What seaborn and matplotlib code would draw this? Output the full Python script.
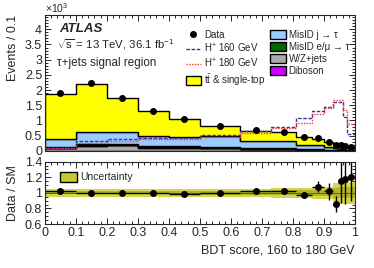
import numpy as np
import pandas as pd
import seaborn as sns
import matplotlib.pyplot as plt
from matplotlib.lines import Line2D
from matplotlib.patches import Patch
from matplotlib.ticker import MultipleLocator, FuncFormatter

# BDT score bin edges (variable width)
edges = [0, 0.1, 0.2, 0.3, 0.4, 0.5, 0.63, 0.73, 0.81, 0.86, 0.9, 0.93, 0.946, 0.962, 0.975, 1.0]

# Events / 0.1, in units of 10^3
ttbar = [1.48, 1.58, 1.12, 0.84, 0.59, 0.32, 0.33, 0.30, 0.26, 0.22, 0.18, 0.14, 0.13, 0.11, 0.08]
misid_j = [0.265, 0.40, 0.38, 0.33, 0.31, 0.36, 0.235, 0.23, 0.147, 0.133, 0.088, 0.056, 0.033, 0.026, 0.01]
misid_emu = [0.03, 0.05, 0.05, 0.04, 0.04, 0.035, 0.03, 0.025, 0.02, 0.015, 0.01, 0.008, 0.006, 0.005, 0.004]
diboson = [0.005, 0.01, 0.01, 0.008, 0.008, 0.006, 0.005, 0.004, 0.003, 0.002, 0.002, 0.001, 0.001, 0.001, 0.001]
wzjets = [0.10, 0.17, 0.18, 0.11, 0.11, 0.09, 0.07, 0.06, 0.04, 0.03, 0.02, 0.015, 0.01, 0.008, 0.005]

hplus160 = [0.10, 0.31, 0.40, 0.43, 0.42, 0.51, 0.65, 0.79, 1.07, 1.30, 1.45, 1.60, 1.60, 1.10, 0.54]
hplus180 = [0.10, 0.27, 0.34, 0.38, 0.38, 0.47, 0.60, 0.74, 0.92, 1.20, 1.42, 1.66, 1.66, 1.36, 0.87]

# data / SM ratio and its error
ratio = [1.017, 1.004, 1.0, 1.0, 0.99, 0.996, 1.017, 1.026, 0.97, 1.077, 1.017, 0.86, 1.155, 1.18, 1.20]
ratio_err = [0.01, 0.01, 0.01, 0.012, 0.015, 0.015, 0.02, 0.025, 0.04, 0.07, 0.11, 0.10, 0.28, 0.32, 0.31]

# uncertainty band half widths (relative)
unc_inner = [0.02, 0.02, 0.02, 0.02, 0.02, 0.025, 0.025, 0.03, 0.03, 0.04, 0.045, 0.06, 0.07, 0.07, 0.07]
unc_outer = [0.05, 0.05, 0.05, 0.05, 0.05, 0.055, 0.055, 0.06, 0.06, 0.08, 0.08, 0.12, 0.14, 0.14, 0.14]

procs = ["W/Z+jets", "Diboson", "MisID e/μ → τ", "MisID j → τ", "tt"]
colors = {"W/Z+jets": "#aaaaaa", "Diboson": "#cc00ff", "MisID e/μ → τ": "#006600",
          "MisID j → τ": "#99ccff", "tt": "#ffff00"}

sns.set_style("ticks")
plt.rcParams['font.family'] = ['Liberation Sans', 'DejaVu Sans']
plt.rcParams['mathtext.fontset'] = 'custom'
plt.rcParams['mathtext.rm'] = 'Liberation Sans'
plt.rcParams['mathtext.it'] = 'Liberation Sans:italic'
plt.rcParams['mathtext.default'] = 'regular'

edges_a = np.array(edges)
centers = (edges_a[1:] + edges_a[:-1]) / 2
halfw = (edges_a[1:] - edges_a[:-1]) / 2

rows = []
for name, vals in zip(procs, [wzjets, diboson, misid_emu, misid_j, ttbar]):
    for c, v in zip(centers, vals):
        rows.append({"x": c, "w": v, "proc": name})
df = pd.DataFrame(rows)

total = np.sum([ttbar, misid_j, misid_emu, diboson, wzjets], axis=0)
data = np.array(ratio) * total
data_err = np.array(ratio_err) * total

fig = plt.figure(figsize=(3.74, 2.68), dpi=100)
ax = fig.add_axes([0.120, 0.437, 0.829, 0.507])
rax = fig.add_axes([0.120, 0.164, 0.829, 0.233])

sns.histplot(data=df, x="x", weights="w", hue="proc", hue_order=procs[::-1], bins=edges,
             multiple="stack", element="step", palette=colors, alpha=1, linewidth=1.0,
             edgecolor="black", legend=False, ax=ax)
sns.histplot(x=centers, weights=hplus160, bins=edges, element="step", fill=False,
             color="#3333aa", linestyle=(0, (2.5, 1.2)), linewidth=1.0, ax=ax)
sns.histplot(x=centers, weights=hplus180, bins=edges, element="step", fill=False,
             color="#ff3333", linestyle=(0, (1, 1)), linewidth=1.0, ax=ax)
ax.errorbar(centers, data, yerr=data_err, fmt="o", color="black", markersize=4,
            elinewidth=1, capsize=0)

ax.set_xlim(0, 1)
ax.set_ylim(0, 4.47)
ax.set_xlabel("")
ax.set_ylabel("Events / 0.1", fontsize=9, loc="top")
ax.tick_params(labelbottom=False)
ax.yaxis.set_major_locator(MultipleLocator(0.5))
ax.yaxis.set_minor_locator(MultipleLocator(0.1))
fmt = FuncFormatter(lambda v, p: "%g" % round(v, 2))
ax.yaxis.set_major_formatter(fmt)
ax.text(0.0, 1.0, r"$\times10^{3}$", transform=ax.transAxes, fontsize=7.5, va="bottom")

ax.text(0.045, 0.90, "ATLAS", transform=ax.transAxes, fontsize=9.5, fontweight="bold",
        fontstyle="italic", va="center")
ax.text(0.04, 0.785, r"$\sqrt{s}$ = 13 TeV, 36.1 fb$^{-1}$", transform=ax.transAxes,
        fontsize=8.2, va="center")
ax.text(0.04, 0.65, "τ+jets signal region", transform=ax.transAxes, fontsize=8.4, va="center")

handles = [
    Line2D([], [], marker="o", color="black", linestyle="none", markersize=4),
    Line2D([], [], color="#3333aa", linestyle=(0, (2.5, 1.2)), linewidth=1),
    Line2D([], [], color="#ff3333", linestyle=(0, (1, 1)), linewidth=1),
    Patch(facecolor="#ffff00", edgecolor="black"),
    Patch(facecolor="#99ccff", edgecolor="black"),
    Patch(facecolor="#006600", edgecolor="black"),
    Patch(facecolor="#aaaaaa", edgecolor="black"),
    Patch(facecolor="#cc00ff", edgecolor="black"),
]
labels = ["Data", r"H$^{+}$ 160 GeV", r"H$^{+}$ 180 GeV", r"t$\bar{t}$ & single-top",
          "MisID j → τ", "MisID e/μ → τ", "W/Z+jets", "Diboson"]
ax.legend(handles, labels, ncol=2, loc="upper right", bbox_to_anchor=(1.0, 0.935),
          fontsize=7, frameon=False, handlelength=1.6, handleheight=1.0,
          columnspacing=0.5, labelspacing=0.2, handletextpad=0.3, borderpad=0.1)

# ratio panel
lo_o = np.array([1 - u for u in unc_outer] + [1 - unc_outer[-1]])
hi_o = np.array([1 + u for u in unc_outer] + [1 + unc_outer[-1]])
lo_i = np.array([1 - u for u in unc_inner] + [1 - unc_inner[-1]])
hi_i = np.array([1 + u for u in unc_inner] + [1 + unc_inner[-1]])
rax.fill_between(edges, lo_o, hi_o, step="post", color="#d6d64a", linewidth=0)
rax.fill_between(edges, lo_i, hi_i, step="post", color="#b4b428", linewidth=0)
rax.axhline(1, color="#555500", linewidth=0.6)
rax.errorbar(centers, ratio, yerr=ratio_err, xerr=halfw, fmt="o", color="black",
             markersize=4, elinewidth=1, capsize=0)
rax.set_xlim(0, 1)
rax.set_ylim(0.6, 1.4)
rax.set_ylabel("Data / SM", fontsize=9)
rax.set_xlabel("BDT score, 160 to 180 GeV", fontsize=9, loc="right")
rax.yaxis.set_major_locator(MultipleLocator(0.2))
rax.yaxis.set_minor_locator(MultipleLocator(0.05))
rax.yaxis.set_major_formatter(fmt)
rax.xaxis.set_major_formatter(fmt)
rax.legend([Patch(facecolor="#c8c832", edgecolor="black")], ["Uncertainty"],
           loc="upper left", bbox_to_anchor=(0.02, 0.98), fontsize=7.5, frameon=False,
           handlelength=1.6, handleheight=1.0, handletextpad=0.3)

for a in (ax, rax):
    a.xaxis.set_major_locator(MultipleLocator(0.1))
    a.xaxis.set_minor_locator(MultipleLocator(0.02))
    a.tick_params(which="both", direction="in", top=True, right=True, labelsize=9,
                  width=0.7, pad=2)
    a.tick_params(which="major", length=4.5)
    a.tick_params(which="minor", length=2.5)
    for s in a.spines.values():
        s.set_linewidth(0.8)

fig.savefig("out.png", dpi=100)
